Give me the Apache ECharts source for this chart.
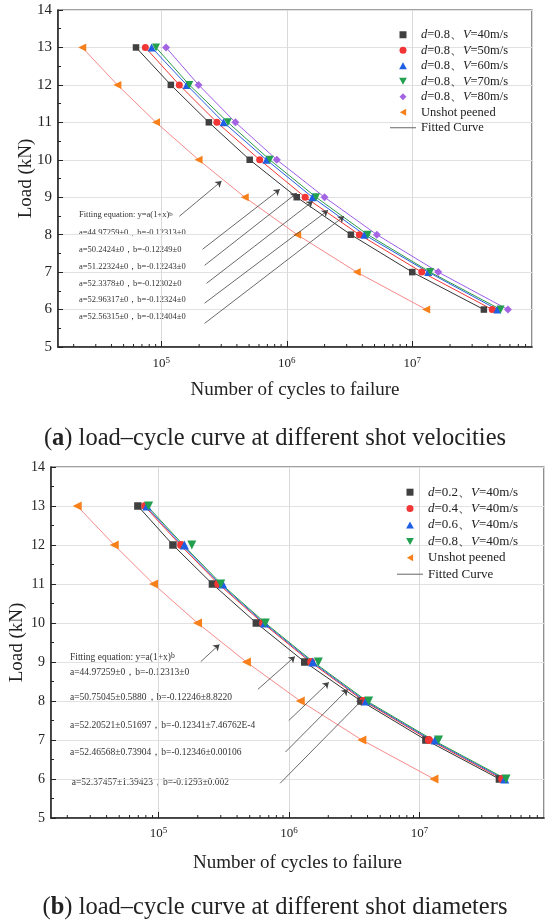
<!DOCTYPE html>
<html>
<head>
<meta charset="utf-8">
<script src="https://cdn.jsdelivr.net/npm/echarts@6/dist/echarts.min.js"></script>
<style>
html, body { margin: 0; padding: 0; background: #fff; }
#chartA { width: 550px; height: 460px; }
#chartB { width: 550px; height: 461px; }
</style>
</head>
<body>
<div id="chartA"></div>
<div id="chartB"></div>
<script>
// load levels (kN), shared by every curve
var loads = [13, 12, 11, 10, 9, 8, 7, 6];

// (a) d=0.8, different shot velocities -- cycles to failure
var cyclesV40 = [62.8e3, 119e3, 239e3, 506e3, 1.20e6, 3.24e6, 10.0e6, 37.2e6];
var cyclesV50 = [74.5e3, 139e3, 277e3, 608e3, 1.40e6, 3.79e6, 11.9e6, 43.4e6];
var cyclesV60 = [83.6e3, 159e3, 313e3, 688e3, 1.60e6, 4.15e6, 13.4e6, 47.6e6];
var cyclesV70 = [90.6e3, 167e3, 339e3, 731e3, 1.71e6, 4.42e6, 13.9e6, 50.6e6];
var cyclesV80 = [109e3, 198e3, 389e3, 832e3, 2.00e6, 5.22e6, 16.1e6, 57.9e6];
var cyclesUnshotA = [23.4e3, 44.6e3, 90.6e3, 198e3, 462e3, 1.21e6, 3.61e6, 12.9e6];

// (b) V=40m/s, different shot diameters -- points
var cyclesD02 = [69.5e3, 129e3, 259e3, 562e3, 1.32e6, 3.56e6, 11.2e6, 41.0e6];
var cyclesD04 = [79.1e3, 149e3, 287e3, 632e3, 1.48e6, 3.71e6, 11.8e6, 43.0e6];
var cyclesD06 = [81.5e3, 158e3, 310e3, 651e3, 1.52e6, 3.89e6, 13.2e6, 45.0e6];
var cyclesD08 = [84.0e3, 180e3, 300e3, 659e3, 1.68e6, 4.08e6, 14.0e6, 46.1e6];
var cyclesUnshotB = [23.8e3, 45.8e3, 91.6e3, 199e3, 472e3, 1.22e6, 3.62e6, 12.9e6];
// (b) fitted curves, read where each line crosses the load levels
var fitD04 = [78e3, 147e3, 288e3, 628e3, 1.46e6, 3.74e6, 11.9e6, 43.0e6];
var fitD06 = [80e3, 151e3, 296e3, 643e3, 1.50e6, 3.84e6, 12.3e6, 44.5e6];
var fitD08 = [82e3, 155e3, 303e3, 658e3, 1.54e6, 3.95e6, 12.7e6, 46.0e6];

// axis range
var xMin = 15000, xMax = 9e7;
var yMin = 5, yMax = 14;

// annotation texts
var notesA = [
  'Fitting equation: y=a(1+x){s|b}',
  'a=44.97259±0，b=-0.12313±0',
  'a=50.2424±0，b=-0.12249±0',
  'a=51.22324±0，b=-0.12243±0',
  'a=52.3378±0，b=-0.12302±0',
  'a=52.96317±0，b=-0.12324±0',
  'a=52.56315±0，b=-0.12404±0'
];
var notesB = [
  'Fitting equation: y=a(1+x){s|b}',
  'a=44.97259±0，b=-0.12313±0',
  'a=50.75045±0.5880，b=-0.12246±8.8220',
  'a=52.20521±0.51697，b=-0.12341±7.46762E-4',
  'a=52.46568±0.73904，b=-0.12346±0.00106',
  'a=52.37457±1.39423，b=-0.1293±0.002'
];
// arrows [fromCycles, fromLoad, toCycles, toLoad]
var arrowsA = [
  [139e3, 8.49, 302e3, 9.43],
  [213e3, 7.61, 879e3, 9.21],
  [221e3, 7.18, 1.20e6, 9.11],
  [229e3, 6.70, 1.61e6, 8.89],
  [221e3, 6.17, 2.13e6, 8.65],
  [221e3, 5.63, 2.86e6, 8.49]
];
var arrowsB = [
  [211e3, 9.01, 293e3, 9.45],
  [578e3, 8.30, 1.11e6, 9.14],
  [996e3, 7.50, 2.02e6, 8.48],
  [939e3, 6.69, 2.82e6, 8.30],
  [855e3, 5.89, 3.67e6, 8.04]
];

var serif = '"Liberation Serif", "Times New Roman", serif';
var ink = '#222';

var ICON = {
  square: 'path://M0,0H10V10H0Z',
  circle: 'path://M5,0A5,5,0,1,1,5,10A5,5,0,1,1,5,0Z',
  up: 'path://M5,0L10,9L0,9Z',
  down: 'path://M0,0L10,0L5,9Z',
  diamond: 'path://M5,0L10,5L5,10L0,5Z',
  left: 'path://M0,5L9,0L9,10Z',
  line: 'path://M0,0H26V1H0Z'
};

function pairs(xs) {
  return xs.map(function (x, i) { return [x, loads[i]]; });
}

function decadeLabel(v) {
  var e = Math.log10(v);
  if (Math.abs(e - Math.round(e)) > 1e-6) return '';
  return '{b|10}{s|' + Math.round(e) + '}';
}

var minorTicks = [];
[1e4, 1e5, 1e6, 1e7].forEach(function (dec) {
  for (var k = 2; k <= 9; k++) {
    var v = k * dec;
    if (v > xMin && v < xMax) minorTicks.push([v, yMin]);
  }
});

function legendName(name) {
  if (name.indexOf('d=') !== 0) return name;
  return '{i|d}' + name.slice(1).replace('V=', '{i|V}=');
}

function buildOption(cfg) {
  var series = [{
    name: 'Fitted Curve', type: 'line', data: [], symbol: 'none',
    lineStyle: { color: '#666', width: 1 }, itemStyle: { color: '#666' }
  }];
  var legendData = [];
  cfg.sets.forEach(function (s, idx) {
    var line = {
      name: 'fit' + idx, type: 'line', data: pairs(s.fit || s.pts),
      symbol: 'none', silent: true, z: 2, animation: false,
      lineStyle: { color: s.line, width: 1 }
    };
    if (s.arrows) {
      line.markLine = {
        silent: true, animation: false,
        symbol: ['none', 'arrow'], symbolSize: 6,
        label: { show: false },
        lineStyle: { color: '#444', width: 0.8, type: 'solid' },
        data: s.arrows.map(function (a) {
          return [{ coord: [a[0], a[1]] }, { coord: [a[2], a[3]] }];
        })
      };
    }
    series.push(line);
    series.push({
      name: s.name, type: 'scatter', data: pairs(s.pts), z: 3,
      symbol: s.symbol, symbolSize: s.size || cfg.symbolSize,
      symbolRotate: s.rotate || 0,
      itemStyle: { color: s.color, opacity: 1 }
    });
    legendData.push({ name: s.name, icon: ICON[s.icon], itemStyle: { color: s.color } });
  });
  legendData.push({ name: 'Fitted Curve', icon: ICON.line, itemStyle: { color: '#666' } });

  series.push({
    type: 'custom', silent: true, z: 5, clip: false, animation: false,
    data: minorTicks,
    renderItem: function (params, api) {
      var p = api.coord([api.value(0), yMin]);
      return {
        type: 'line',
        shape: { x1: p[0], y1: p[1], x2: p[0], y2: p[1] - 3 },
        style: { stroke: ink, lineWidth: 1 }
      };
    }
  });

  var graphic = cfg.notes.map(function (t, i) {
    return {
      type: 'text', x: cfg.noteX[i], y: cfg.noteY[i], silent: true,
      style: {
        text: t, fill: '#333', fontFamily: serif, fontSize: cfg.noteSize,
        verticalAlign: 'middle',
        rich: { s: { fontSize: cfg.noteSize * 0.8, fontFamily: serif, fill: '#333', verticalAlign: 'top', lineHeight: cfg.noteSize * 0.8 } }
      }
    };
  });

  return {
    animation: false,
    title: {
      text: '{p|(}{k|' + cfg.tag + '}{p|) ' + cfg.caption + '}',
      left: 'center', top: cfg.captionTop,
      textStyle: {
        fontWeight: 'normal',
        rich: {
          p: { fontFamily: serif, fontSize: 24.5, color: ink, fontWeight: 'normal' },
          k: { fontFamily: serif, fontSize: 24.5, color: ink, fontWeight: 'bold' }
        }
      }
    },
    grid: {
      left: cfg.grid[0], right: cfg.grid[1], top: cfg.grid[2], bottom: cfg.grid[3],
      show: true, borderColor: '#444', borderWidth: 1.2
    },
    legend: {
      orient: 'vertical', left: cfg.legendLeft, top: cfg.legendTop,
      itemWidth: 26, itemHeight: 7, itemGap: 0,
      selectedMode: false, data: legendData, formatter: legendName,
      textStyle: {
        fontFamily: serif, fontSize: cfg.legendFont, color: ink, lineHeight: cfg.legendRow,
        rich: { i: { fontFamily: serif, fontSize: cfg.legendFont, fontStyle: 'italic', color: ink, lineHeight: cfg.legendRow } }
      }
    },
    xAxis: {
      type: 'log', logBase: 10, min: xMin, max: xMax,
      name: 'Number of cycles to failure', nameLocation: 'middle', nameGap: cfg.xNameGap,
      nameMoveOverlap: false,
      nameTextStyle: { fontFamily: serif, fontSize: 19, color: ink },
      axisLine: { show: true, onZero: false, lineStyle: { color: ink, width: 1.5 } },
      axisTick: { inside: true, length: 6, lineStyle: { color: ink } },
      axisLabel: {
        formatter: decadeLabel, margin: cfg.xLabelMargin, showMinLabel: false, showMaxLabel: false,
        rich: {
          b: { fontFamily: serif, fontSize: 13, color: ink, lineHeight: 16 },
          s: { fontFamily: serif, fontSize: 9, color: ink, lineHeight: 9, verticalAlign: 'top' }
        }
      },
      splitLine: { show: true, lineStyle: { color: '#d9d9d9', width: 1 } }
    },
    yAxis: {
      type: 'value', min: yMin, max: yMax, interval: 1,
      name: 'Load (kN)', nameLocation: 'middle', nameGap: cfg.yNameGap,
      nameMoveOverlap: false,
      nameTextStyle: { fontFamily: serif, fontSize: 19, color: ink },
      axisLine: { show: true, lineStyle: { color: ink, width: 1.5 } },
      axisTick: { inside: true, length: 5, lineStyle: { color: ink } },
      minorTick: { show: true, splitNumber: 2, length: 3, lineStyle: { color: ink } },
      axisLabel: { fontFamily: serif, fontSize: cfg.yLabelFont, color: ink, margin: 6 },
      splitLine: { show: true, lineStyle: { color: '#e2e2e2', width: 1 } }
    },
    graphic: graphic,
    series: series
  };
}

var optionA = buildOption({
  tag: 'a', caption: 'load–cycle curve at different shot velocities', captionTop: 421,
  grid: [58, 18, 10, 113],
  legendLeft: 385, legendTop: 22, legendRow: 15.5, legendFont: 12.5,
  xNameGap: 34, yNameGap: 22, xLabelMargin: 9, yLabelFont: 15,
  symbolSize: 7,
  notes: notesA, noteSize: 8.5,
  noteX: [79, 79, 79, 79, 79, 79, 79],
  noteY: [215, 232.3, 250, 266.7, 283.7, 300, 317],
  sets: [
    { name: 'd=0.8、V=40m/s', pts: cyclesV40, color: '#404040', line: '#333', symbol: 'rect', icon: 'square', size: 6.5 },
    { name: 'd=0.8、V=50m/s', pts: cyclesV50, color: '#f23535', line: '#f23535', symbol: 'circle', icon: 'circle' },
    { name: 'd=0.8、V=60m/s', pts: cyclesV60, color: '#1f5fe4', line: '#2b5ce6', symbol: 'triangle', icon: 'up', size: 8 },
    { name: 'd=0.8、V=70m/s', pts: cyclesV70, color: '#22a04f', line: '#2a9a48', symbol: 'triangle', rotate: 180, icon: 'down', size: 8 },
    { name: 'd=0.8、V=80m/s', pts: cyclesV80, color: '#a465e3', line: '#9b5de5', symbol: 'diamond', icon: 'diamond', size: 8 },
    { name: 'Unshot peened', pts: cyclesUnshotA, color: '#f7801a', line: '#f58a8a', symbol: 'triangle', rotate: 90, icon: 'left', size: 8, arrows: arrowsA }
  ]
});

var optionB = buildOption({
  tag: 'b', caption: 'load–cycle curve at different shot diameters', captionTop: 430,
  grid: [49, 6, 6, 103],
  legendLeft: 392, legendTop: 19, legendRow: 16.4, legendFont: 13,
  xNameGap: 36, yNameGap: 24, xLabelMargin: 8, yLabelFont: 14,
  symbolSize: 8,
  notes: notesB, noteSize: 9.5,
  noteX: [70, 70, 70, 70, 70, 71.7],
  noteY: [197, 212.7, 237.7, 265, 292.7, 322.3],
  sets: [
    { name: 'd=0.2、V=40m/s', pts: cyclesD02, color: '#404040', line: '#333', symbol: 'rect', icon: 'square', size: 7.5 },
    { name: 'd=0.4、V=40m/s', pts: cyclesD04, fit: fitD04, color: '#f23535', line: '#f23535', symbol: 'circle', icon: 'circle' },
    { name: 'd=0.6、V=40m/s', pts: cyclesD06, fit: fitD06, color: '#1f5fe4', line: '#2b5ce6', symbol: 'triangle', icon: 'up', size: 9 },
    { name: 'd=0.8、V=40m/s', pts: cyclesD08, fit: fitD08, color: '#22a04f', line: '#2a9a48', symbol: 'triangle', rotate: 180, icon: 'down', size: 9 },
    { name: 'Unshot peened', pts: cyclesUnshotB, color: '#f7801a', line: '#f58a8a', symbol: 'triangle', rotate: 90, icon: 'left', size: 9, arrows: arrowsB }
  ]
});

var chartA = echarts.init(document.getElementById('chartA'));
chartA.setOption(optionA);
var chartB = echarts.init(document.getElementById('chartB'));
chartB.setOption(optionB);
</script>
</body>
</html>
